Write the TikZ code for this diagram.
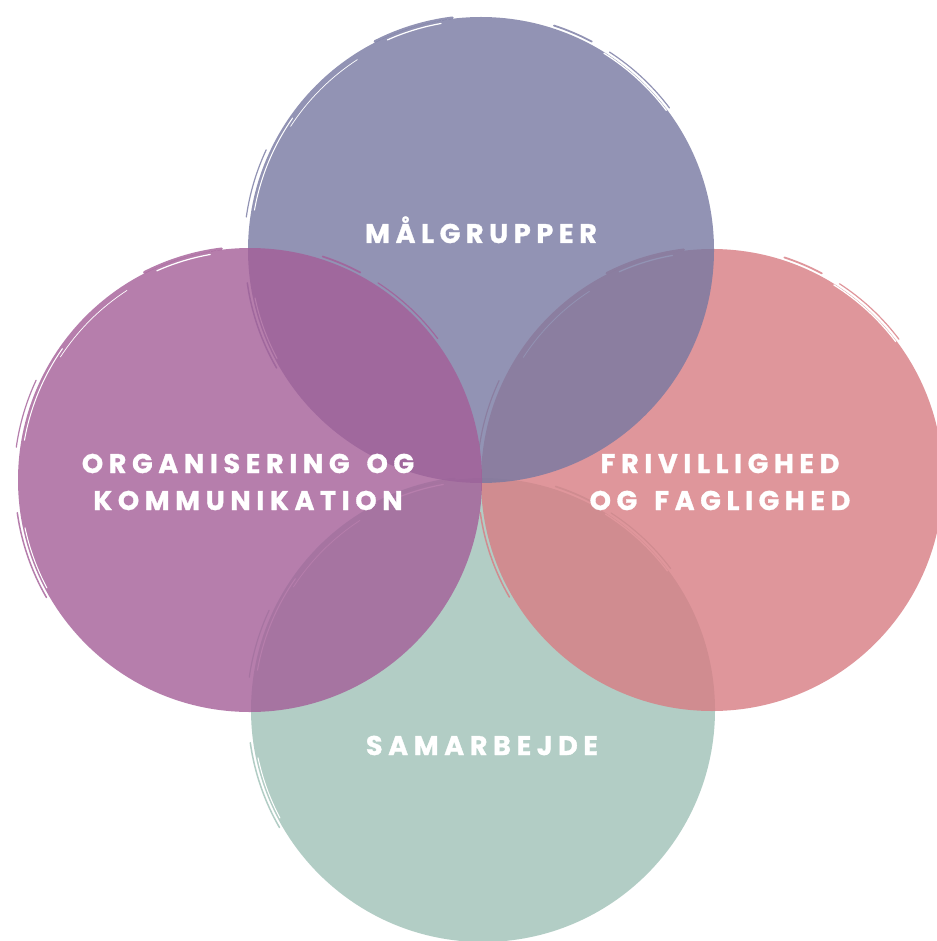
\documentclass[tikz,border=0pt]{standalone}
\usepackage{fontspec}
\newfontfamily\lblfont{Poppins}[LetterSpace=21, WordSpace=1.5, BoldFeatures={FakeBold=1.2}]
\definecolor{cTop}{RGB}{119,121,162}
\definecolor{cLeft}{RGB}{164,94,152}
\definecolor{cRight}{RGB}{216,124,131}
\definecolor{cBottom}{RGB}{159,193,183}
\tikzset{
  lbl/.style={text=white, font=\lblfont\bfseries\fontsize{27}{32}\selectfont, inner sep=0pt, anchor=base},
}
% arc stroke: cx cy r a b dr width colour
\newcommand\bstroke[8]{\draw[#8, line width=#7, line cap=round, draw opacity=0.8]
  ([shift={(#4:#3+#6)}]#1,#2) arc[start angle=#4, end angle=#5, radius=#3+#6];}
\newcommand\wstroke[7]{\draw[white, line width=#7, line cap=round]
  ([shift={(#4:#3+#6)}]#1,#2) arc[start angle=#4, end angle=#5, radius=#3+#6];}
\newcommand\discfill[4]{\fill[#4, fill opacity=0.8] (#1,#2) circle[radius=#3];}
\newcommand\edgecol[4]{%
  \bstroke{#1}{#2}{#3}{-117}{-97}{1}{2.5}{#4}
  \bstroke{#1}{#2}{#3}{-72}{-62}{3}{1.8}{#4}
  \bstroke{#1}{#2}{#3}{-57}{-37}{3}{1.2}{#4}
  \bstroke{#1}{#2}{#3}{150}{172}{3}{1.5}{#4}
  \bstroke{#1}{#2}{#3}{-172}{-155}{4}{1.2}{#4}}
\newcommand\edgewA[3]{%
  \wstroke{#1}{#2}{#3}{-114}{-100}{-3}{1.2}
  \wstroke{#1}{#2}{#3}{-147}{-123}{-6}{0.7}}
\newcommand\edgewB[3]{\wstroke{#1}{#2}{#3}{-58}{-37}{-1}{1.3}}
\newcommand\edgewC[3]{%
  \wstroke{#1}{#2}{#3}{-170}{-145}{-3}{1.0}
  \wstroke{#1}{#2}{#3}{152}{168}{-2}{1.0}}
\begin{document}
\begin{tikzpicture}[x=1pt,y=-1pt]
\useasboundingbox[fill=white] (0,0) rectangle (936,941);
% bottom circle
\discfill{483}{710}{232}{cBottom}
\edgewA{483}{710}{232}\edgewB{483}{710}{232}\edgewC{483}{710}{232}
\edgecol{483}{710}{232}{cBottom}
% right circle
\discfill{712}{480}{231}{cRight}
\edgewA{712}{480}{231}\edgewB{712}{480}{231}
\edgecol{712}{480}{231}{cRight}
% top circle
\discfill{481}{250}{233}{cTop}
\edgewA{481}{250}{233}\edgewB{481}{250}{233}\edgewC{481}{250}{233}
\edgecol{481}{250}{233}{cTop}
% left circle
\discfill{250}{480}{232}{cLeft}
\edgewA{250}{480}{232}\edgewC{250}{480}{232}
\edgecol{250}{480}{232}{cLeft}
% labels
\node[lbl] (top) at (481,243) {MÅLGRUPPER};
\node[lbl] (left1) at (248,473) {ORGANISERING OG};
\node[lbl] (left2) at (248,510) {KOMMUNIKATION};
\node[lbl] (right1) at (720,473) {FRIVILLIGHED};
\node[lbl] (right2) at (720,510) {OG FAGLIGHED};
\node[lbl] (bottom) at (482,755) {SAMARBEJDE};
\end{tikzpicture}
\end{document}
